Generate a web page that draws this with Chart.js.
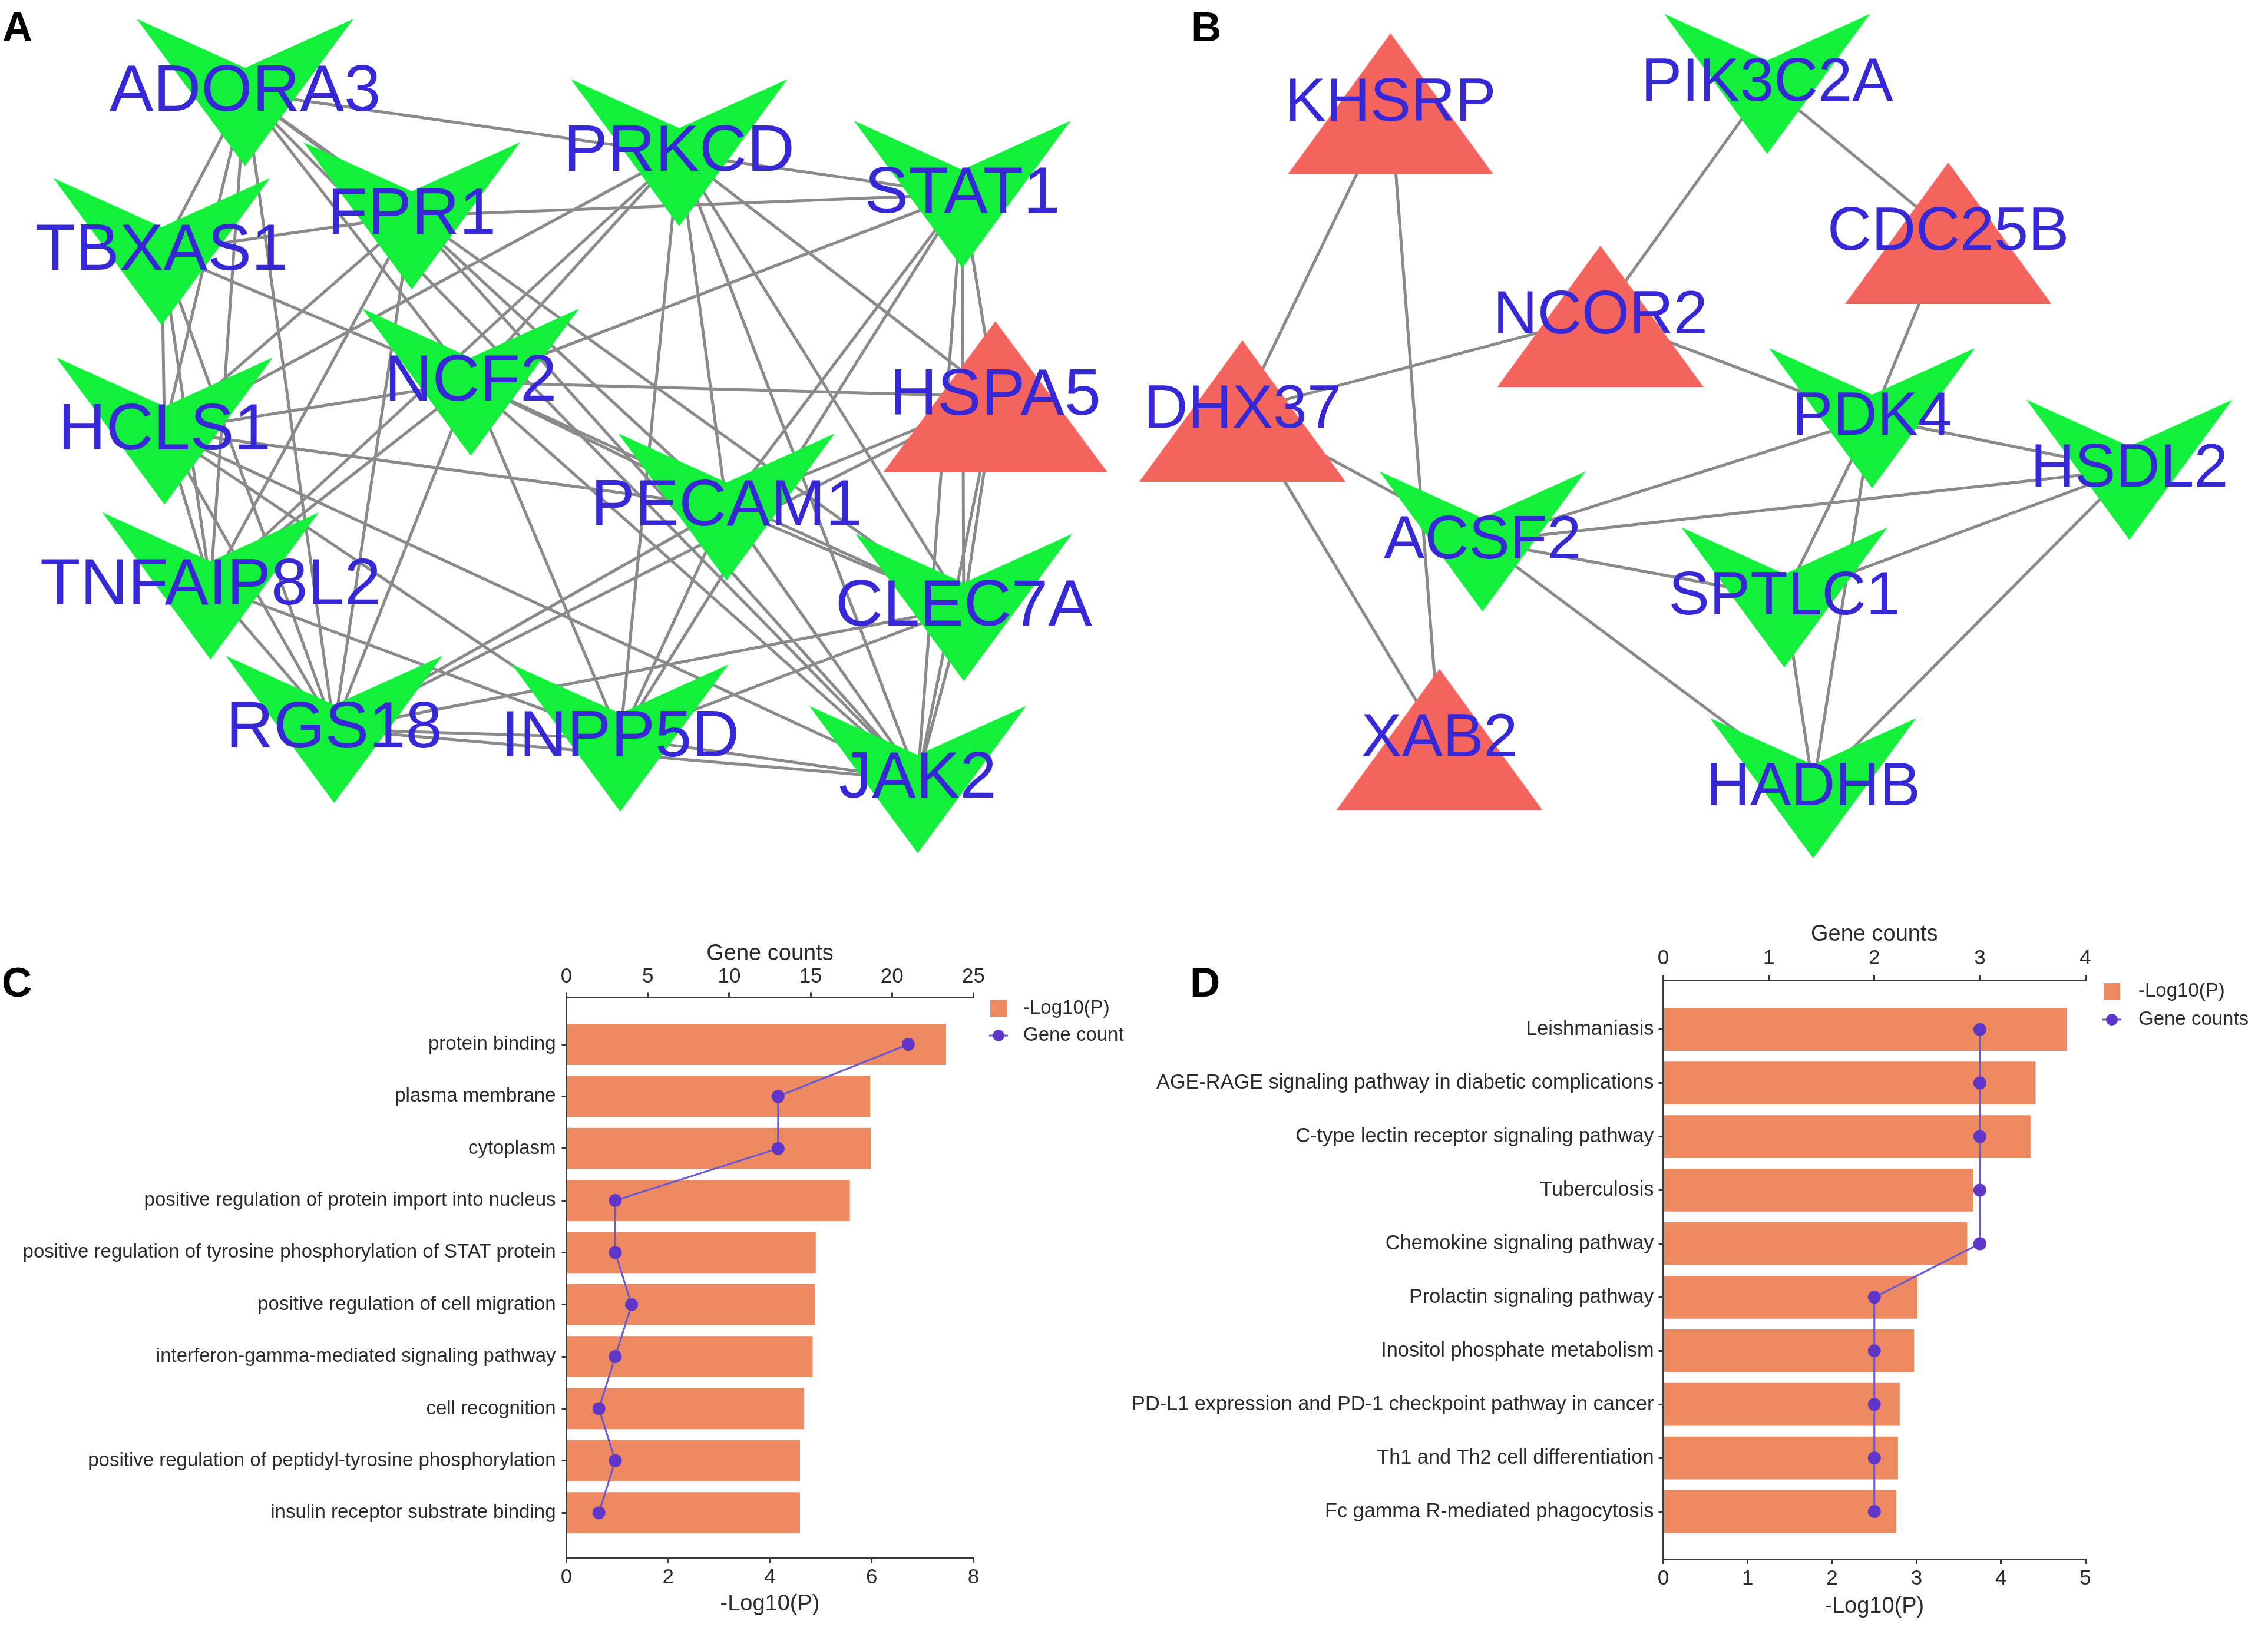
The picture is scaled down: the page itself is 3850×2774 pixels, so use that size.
<!DOCTYPE html>
<html><head><meta charset="utf-8">
<script src="https://cdn.jsdelivr.net/npm/chart.js@4.4.1/dist/chart.umd.min.js"></script>
<style>
html,body{margin:0;padding:0;background:#fff;}
body{width:3850px;height:2774px;position:relative;overflow:hidden;font-family:"Liberation Sans",Arial,sans-serif;}
canvas{position:absolute;}
.letter{position:absolute;font:bold 71px "Liberation Sans",Arial,sans-serif;color:#000;line-height:1;}
</style></head><body>
<canvas id="cA" width="1925" height="1480" style="left:0;top:0"></canvas>
<canvas id="cB" width="1925" height="1480" style="left:1925px;top:0"></canvas>
<canvas id="cC" width="1925" height="1214" style="left:0;top:1560px"></canvas>
<canvas id="cD" width="1970" height="1244" style="left:1880px;top:1530px"></canvas>
<div class="letter" style="left:4px;top:10px">A</div>
<div class="letter" style="left:2022px;top:10px">B</div>
<div class="letter" style="left:3px;top:1632px">C</div>
<div class="letter" style="left:2020px;top:1632px">D</div>
<script>
// ---------------- DATA ----------------
// Panel A network (layout positions in panel units)
const netANames = ['ADORA3','PRKCD','STAT1','FPR1','TBXAS1','NCF2','HSPA5','HCLS1','PECAM1','TNFAIP8L2','CLEC7A','RGS18','INPP5D','JAK2'];
const netAX = [168,470,667,284,110,325,690,112,503,144,668,230,429,636];
const netAY = [62,104,133,148,173,264,274,298,351,406,421,506,512,541];
const netAShape = ['v','v','v','v','v','v','tri','v','v','v','v','v','v','v'];
const netAEdges = [
 ['ADORA3','STAT1'],['ADORA3','TBXAS1'],['ADORA3','HCLS1'],['ADORA3','TNFAIP8L2'],['ADORA3','RGS18'],['ADORA3','FPR1'],['ADORA3','NCF2'],['ADORA3','JAK2'],['ADORA3','CLEC7A'],
 ['TBXAS1','FPR1'],['TBXAS1','HCLS1'],['TBXAS1','TNFAIP8L2'],['TBXAS1','RGS18'],['TBXAS1','NCF2'],
 ['FPR1','STAT1'],['FPR1','HCLS1'],['FPR1','TNFAIP8L2'],['FPR1','RGS18'],['FPR1','PECAM1'],['FPR1','JAK2'],
 ['PRKCD','NCF2'],['PRKCD','HCLS1'],['PRKCD','TNFAIP8L2'],['PRKCD','INPP5D'],['PRKCD','PECAM1'],['PRKCD','JAK2'],['PRKCD','CLEC7A'],['PRKCD','HSPA5'],
 ['STAT1','NCF2'],['STAT1','INPP5D'],['STAT1','PECAM1'],['STAT1','CLEC7A'],['STAT1','JAK2'],['STAT1','HSPA5'],
 ['NCF2','HSPA5'],['NCF2','HCLS1'],['NCF2','PECAM1'],['NCF2','CLEC7A'],['NCF2','JAK2'],['NCF2','RGS18'],['NCF2','INPP5D'],['NCF2','TNFAIP8L2'],
 ['HCLS1','PECAM1'],['HCLS1','TNFAIP8L2'],['HCLS1','RGS18'],['HCLS1','JAK2'],['HCLS1','INPP5D'],
 ['TNFAIP8L2','RGS18'],['TNFAIP8L2','INPP5D'],
 ['RGS18','PECAM1'],['RGS18','CLEC7A'],['RGS18','INPP5D'],['RGS18','JAK2'],['RGS18','HSPA5'],
 ['INPP5D','PECAM1'],['INPP5D','CLEC7A'],['INPP5D','JAK2'],
 ['PECAM1','HSPA5'],['PECAM1','CLEC7A'],['PECAM1','JAK2'],
 ['CLEC7A','JAK2'],['HSPA5','JAK2'],['HSPA5','CLEC7A']
];

// Panel B network
const netBNames = ['KHSRP','PIK3C2A','CDC25B','NCOR2','DHX37','PDK4','HSDL2','ACSF2','SPTLC1','XAB2','HADHB'];
const netBX = [960,1222,1348,1106,857,1295,1474,1024,1234,994,1254];
const netBY = [70,56,160,218,284,289,325,375,414,513,547];
const netBShape = ['tri','v','tri','tri','tri','v','v','v','v','tri','v'];
const netBEdges = [
 ['KHSRP','DHX37'],['KHSRP','XAB2'],['PIK3C2A','NCOR2'],['PIK3C2A','CDC25B'],['CDC25B','PDK4'],
 ['NCOR2','DHX37'],['NCOR2','PDK4'],['DHX37','ACSF2'],['DHX37','XAB2'],
 ['PDK4','HSDL2'],['PDK4','ACSF2'],['PDK4','SPTLC1'],['PDK4','HADHB'],
 ['ACSF2','HSDL2'],['ACSF2','SPTLC1'],['ACSF2','HADHB'],
 ['HSDL2','SPTLC1'],['HSDL2','HADHB'],['SPTLC1','HADHB']
];

// Panel C: GO enrichment
const goTerms = ['protein binding','plasma membrane','cytoplasm','positive regulation of protein import into nucleus',
 'positive regulation of tyrosine phosphorylation of STAT protein','positive regulation of cell migration',
 'interferon-gamma-mediated signaling pathway','cell recognition','positive regulation of peptidyl-tyrosine phosphorylation',
 'insulin receptor substrate binding'];
const goLogP = [7.46,5.97,5.98,5.57,4.90,4.89,4.84,4.67,4.59,4.59];
const goCounts = [21,13,13,3,3,4,3,2,3,2];
const goLogPTicks = {min:0,max:8,step:2};
const goCountTicks = {min:0,max:25,step:5};

// Panel D: KEGG enrichment
const keggTerms = ['Leishmaniasis','AGE-RAGE signaling pathway in diabetic complications','C-type lectin receptor signaling pathway',
 'Tuberculosis','Chemokine signaling pathway','Prolactin signaling pathway','Inositol phosphate metabolism',
 'PD-L1 expression and PD-1 checkpoint pathway in cancer','Th1 and Th2 cell differentiation','Fc gamma R-mediated phagocytosis'];
const keggLogP = [4.78,4.41,4.35,3.67,3.60,3.01,2.97,2.80,2.78,2.76];
const keggCounts = [3,3,3,3,3,2,2,2,2,2];
const keggLogPTicks = {min:0,max:5,step:1};
const keggCountTicks = {min:0,max:4,step:1};

// ---------------- STYLE ----------------
const GREEN = '#12f03c', RED = '#f4645f', LABEL_BLUE = '#3628d6', EDGE = '#8a8a8a';
const BAR = '#ee8a62', LINE = '#6a58d2', POINT = '#5f36c8', AXIS = '#3a3a3a', TEXT = '#2a2a2a';
const FONT = '"Liberation Sans", Arial, sans-serif';

Chart.defaults.font.family = FONT;
Chart.defaults.animation = false;

function shapeCanvas(kind, w, h, color) {
  const c = document.createElement('canvas');
  c.width = w; c.height = h;
  const g = c.getContext('2d');
  g.fillStyle = color;
  g.beginPath();
  if (kind === 'v') {
    g.moveTo(0, 0); g.lineTo(w / 2, h / 3); g.lineTo(w, 0); g.lineTo(w / 2, h);
  } else {
    g.moveTo(w / 2, 0); g.lineTo(w, h); g.lineTo(0, h);
  }
  g.closePath(); g.fill();
  return c;
}

function makeNetwork(id, names, xs, ys, shapes, edges, xr, yr, size, fontPx) {
  const imgs = {
    v: shapeCanvas('v', size.vw, size.vh, GREEN),
    tri: shapeCanvas('tri', size.tw, size.th, RED)
  };
  const edgeData = [];
  edges.forEach(([a, b]) => {
    const i = names.indexOf(a), j = names.indexOf(b);
    edgeData.push({x: xs[i], y: ys[i]}, {x: xs[j], y: ys[j]}, {x: xs[j], y: null});
  });
  const nodeData = names.map((n, i) => ({x: xs[i], y: ys[i]}));
  const labelPlugin = {
    id: 'nodeLabels' + id,
    afterDatasetsDraw(chart) {
      const {ctx, scales} = chart;
      ctx.save();
      ctx.font = fontPx + 'px ' + FONT;
      ctx.fillStyle = LABEL_BLUE;
      ctx.textAlign = 'center';
      ctx.textBaseline = 'middle';
      names.forEach((n, i) => {
        ctx.fillText(n, scales.x.getPixelForValue(xs[i]), scales.y.getPixelForValue(ys[i]));
      });
      ctx.restore();
    }
  };
  new Chart(document.getElementById(id), {
    type: 'scatter',
    data: {datasets: [
      {data: nodeData, pointStyle: (c) => imgs[shapes[c.dataIndex]], pointRadius: 5, order: 0, clip: false},
      {data: edgeData, showLine: true, spanGaps: false, borderColor: EDGE, borderWidth: 5, pointRadius: 0, order: 1, clip: false}
    ]},
    options: {
      responsive: false, animation: false, events: [],
      layout: {padding: 0},
      plugins: {legend: {display: false}, tooltip: {enabled: false}},
      scales: {
        x: {type: 'linear', display: false, min: xr[0], max: xr[1]},
        y: {type: 'linear', display: false, min: yr[0], max: yr[1], reverse: true}
      }
    },
    plugins: [labelPlugin]
  });
}

function makeEnrichment(id, terms, logP, counts, pTicks, cTicks, lineLabel, g) {
  const barData = terms.map((t, i) => ({x: logP[i], y: i}));
  const lineData = terms.map((t, i) => ({x: counts[i], y: i}));
  const legendPlugin = {
    id: 'legend' + id,
    afterDraw(chart) {
      const ctx = chart.ctx;
      ctx.save();
      ctx.fillStyle = BAR;
      ctx.fillRect(g.legX - 14, g.legY1 - 14, 28, 28);
      ctx.strokeStyle = LINE; ctx.lineWidth = 3;
      ctx.beginPath(); ctx.moveTo(g.legX - 16, g.legY2); ctx.lineTo(g.legX + 16, g.legY2); ctx.stroke();
      ctx.fillStyle = POINT;
      ctx.beginPath(); ctx.arc(g.legX, g.legY2, 10, 0, Math.PI * 2); ctx.fill();
      ctx.fillStyle = TEXT;
      ctx.font = '33px ' + FONT;
      ctx.textAlign = 'left'; ctx.textBaseline = 'middle';
      ctx.fillText('-Log10(P)', g.legTX, g.legY1);
      ctx.fillText(lineLabel, g.legTX, g.legY2);
      ctx.restore();
    }
  };
  const zeroPad = (s) => { s.paddingLeft = 0; s.paddingRight = 0; s.paddingTop = 0; s.paddingBottom = 0; };
  new Chart(document.getElementById(id), {
    type: 'bar',
    data: {datasets: [
      {type: 'line', label: lineLabel, data: lineData, xAxisID: 'x2', yAxisID: 'y', indexAxis: 'y',
       borderColor: LINE, borderWidth: 3, pointRadius: 11, pointBackgroundColor: POINT, pointBorderWidth: 0,
       tension: 0, order: 0, clip: false},
      {type: 'bar', label: '-Log10(P)', data: barData, xAxisID: 'x', yAxisID: 'y',
       backgroundColor: BAR, barPercentage: g.barPct, categoryPercentage: 1, order: 1}
    ]},
    options: {
      indexAxis: 'y', responsive: false, animation: false, events: [],
      layout: {padding: {left: 0, top: 0, bottom: 0, right: g.padRight}},
      plugins: {legend: {display: false}, tooltip: {enabled: false}},
      scales: {
        y: {
          type: 'linear', position: 'left', reverse: true, offset: false, min: g.yMin, max: g.yMax,
          afterBuildTicks: (s) => { s.ticks = terms.map((t, i) => ({value: i})); },
          afterFit: (s) => { s.width = g.yWidth; zeroPad(s); },
          ticks: {autoSkip: false, padding: g.yPad, color: TEXT, font: {size: g.catFont},
                  callback: (v) => terms[v]},
          grid: {offset: false, drawOnChartArea: false, drawTicks: true, tickLength: 8, color: AXIS, lineWidth: 3},
          border: {display: true, color: AXIS, width: 3}
        },
        x: {
          type: 'linear', position: 'bottom', min: pTicks.min, max: pTicks.max,
          afterFit: (s) => { s.height = g.bottomH; zeroPad(s); },
          ticks: {stepSize: pTicks.step, padding: 3, color: TEXT, font: {size: 35}},
          grid: {drawOnChartArea: false, drawTicks: true, tickLength: 9, color: AXIS, lineWidth: 3},
          border: {display: true, color: AXIS, width: 3},
          title: {display: true, text: '-Log10(P)', color: TEXT, font: {size: 38}, padding: {top: 0, bottom: g.bTitlePad}}
        },
        x2: {
          type: 'linear', axis: 'x', position: 'top', min: cTicks.min, max: cTicks.max,
          afterFit: (s) => { s.height = g.topH; zeroPad(s); },
          ticks: {stepSize: cTicks.step, padding: g.topTickPad, color: TEXT, font: {size: 35}},
          grid: {drawOnChartArea: false, drawTicks: true, tickLength: 9, color: AXIS, lineWidth: 3},
          border: {display: true, color: AXIS, width: 3},
          title: {display: true, text: 'Gene counts', color: TEXT, font: {size: 38}, padding: {top: g.tTitlePad, bottom: 0}}
        }
      }
    },
    plugins: [legendPlugin]
  });
}

// ---------------- BUILD ----------------
makeNetwork('cA', netANames, netAX, netAY, netAShape, netAEdges, [0, 784], [0, 602.8],
  {vw: 368, vh: 250, tw: 380, th: 256}, 112);
makeNetwork('cB', netBNames, netBX, netBY, netBShape, netBEdges, [784, 1568], [0, 602.8],
  {vw: 350, vh: 238, tw: 350, th: 240}, 104);

makeEnrichment('cC', goTerms, goLogP, goCounts, goLogPTicks, goCountTicks, 'Gene count', {
  yMin: -0.9, yMax: 9.87, yWidth: 961.5, yPad: 10, padRight: 272.5, topH: 133.5, bottomH: 129,
  tTitlePad: 37, bTitlePad: 28, topTickPad: 5, catFont: 33, barPct: 0.79,
  legX: 1695, legY1: 152, legY2: 198, legTX: 1737
});
// D canvas starts at page x 1880, so chart-area left (page 2823.5) sits 943.5 px in
makeEnrichment('cD', keggTerms, keggLogP, keggCounts, keggLogPTicks, keggCountTicks, 'Gene counts', {
  yMin: -0.92, yMax: 9.89, yWidth: 943.5, yPad: 8, padRight: 310, topH: 134, bottomH: 127,
  tTitlePad: 34, bTitlePad: 24, topTickPad: 7, catFont: 34.3, barPct: 0.8,
  legX: 1705, legY1: 153, legY2: 201, legTX: 1750
});
</script>
</body></html>
